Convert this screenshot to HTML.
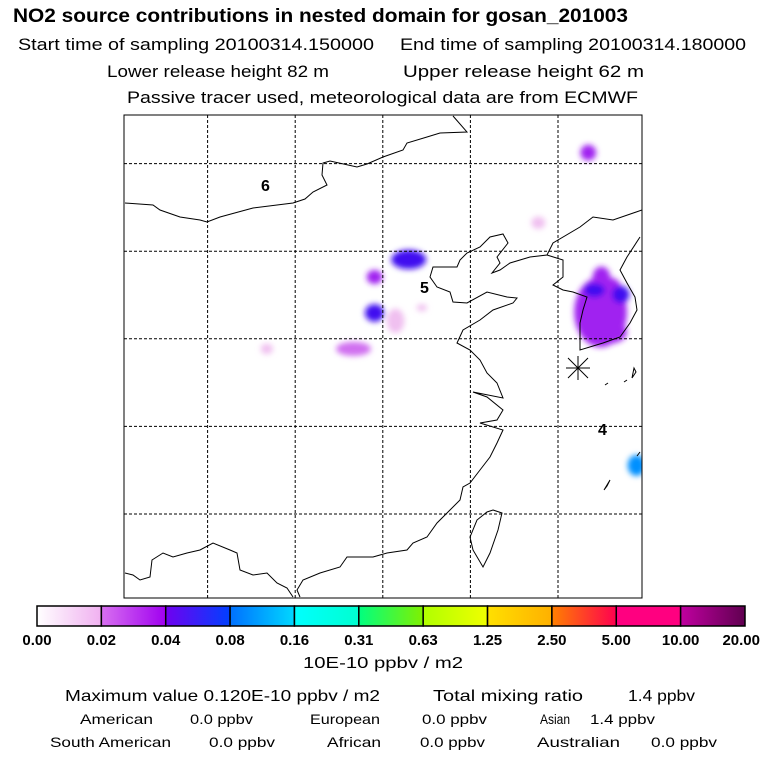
<!DOCTYPE html>
<html><head><meta charset="utf-8"><style>
html,body{margin:0;padding:0;background:#fff;}
svg{display:block;font-family:"Liberation Sans",sans-serif;}
</style></head><body>
<svg id="chart" width="768" height="768" viewBox="0 0 768 768" xmlns="http://www.w3.org/2000/svg">
<defs>
<filter id="blur" x="-50%" y="-50%" width="200%" height="200%"><feGaussianBlur stdDeviation="3"/></filter>
<clipPath id="mapclip"><rect x="124" y="115" width="518" height="483"/></clipPath>
</defs>
<g fill="#000">
<text x="13" y="22" font-size="19" font-weight="bold" textLength="615" lengthAdjust="spacingAndGlyphs">NO2 source contributions in nested domain for gosan_201003</text>
<text x="18" y="50" font-size="17" textLength="356" lengthAdjust="spacingAndGlyphs">Start time of sampling 20100314.150000</text>
<text x="400" y="50" font-size="17" textLength="346" lengthAdjust="spacingAndGlyphs">End time of sampling 20100314.180000</text>
<text x="107" y="77" font-size="17" textLength="222" lengthAdjust="spacingAndGlyphs">Lower release height   82 m</text>
<text x="403" y="77" font-size="17" textLength="241" lengthAdjust="spacingAndGlyphs">Upper release height   62 m</text>
<text x="127" y="103" font-size="17" textLength="511" lengthAdjust="spacingAndGlyphs">Passive tracer used, meteorological data are from ECMWF</text>
</g>
<g id="map">
<rect x="124" y="115" width="518" height="483" fill="#fff"/>
<g id="blobs" clip-path="url(#mapclip)" filter="url(#blur)"></g>
<g id="grid" stroke="#000" stroke-width="1" stroke-dasharray="3,2"></g>
<g fill="none" stroke="#000" stroke-width="1" clip-path="url(#mapclip)">
<path d="M125,203 L153,205 L160,210 L180,217 L200,220 L207,222 L220,217 L253,208 L293,203 L305,199 L313,192 L327,185 L322,175 L323,163 L330,161 L357,167 L367,164 L383,157 L403,150 L407,143 L427,137 L440,133 L467,132 L453,116"/>
<path d="M642,210 L613,220 L593,217 L580,227 L553,243 L547,255 L530,257 L510,263 L500,270 L492,273 L500,263 L497,257 L508,243 L503,234 L490,237 L480,247 L467,253 L460,260 L457,267 L433,267 L430,277 L437,287 L450,292 L453,302 L467,303 L487,292 L507,297 L517,298 L513,303 L493,310 L480,320 L463,330 L457,343 L470,350 L480,360 L487,373 L497,383 L503,398 L473,392 L487,397 L503,410 L497,420 L480,423 L503,430 L497,443 L490,457 L480,470 L470,483 L463,487 L460,500 L447,513 L437,523 L427,537 L413,543 L407,550 L387,553 L373,557 L360,557 L347,557 L340,567 L320,573 L303,580 L297,590 L300,597"/>
<path d="M547,255 L563,260 L563,277 L553,285 L563,290 L573,292 L587,297 L583,310 L580,323 L580,343 L580,350 L603,343 L620,337 L630,323 L637,310 L635,297 L627,283 L620,270 L627,257 L640,237"/>
<path d="M493,510 L502,513 L498,530 L490,553 L483,567 L473,550 L470,537 L477,520 L487,512 Z"/>
<path d="M125,573 L133,575 L140,580 L150,577 L152,560 L163,553 L173,557 L187,553 L200,550 L213,543 L230,550 L237,553 L240,570 L253,575 L267,573 L277,583 L287,588 L293,597"/>
<path d="M632,378 L636,372 L634,368 Z M624,382 L627,380 M605,385 L608,383 M604,490 L610,480 L607,486 Z M637,456 L640,452"/>
</g>
<g stroke="#000" stroke-width="1">
<line x1="566" y1="368" x2="590" y2="368"/><line x1="578" y1="356" x2="578" y2="380"/>
<line x1="568" y1="358" x2="588" y2="378"/><line x1="568" y1="378" x2="588" y2="358"/>
</g>
<g font-size="16" font-weight="bold" fill="#000">
<text x="261" y="191">6</text>
<text x="420" y="293">5</text>
<text x="598" y="435">4</text>
</g>
<rect x="124" y="115" width="518" height="483" fill="none" stroke="#000" stroke-width="1"/>
</g>
<g id="colorbar"></g>
<g id="cblabels" font-size="15" font-weight="bold" fill="#000"></g>
<text x="383" y="668" font-size="16" text-anchor="middle" textLength="160" lengthAdjust="spacingAndGlyphs">10E-10 ppbv / m2</text>
<g font-size="16" fill="#000">
<text x="65" y="701" textLength="315" lengthAdjust="spacingAndGlyphs">Maximum value  0.120E-10 ppbv / m2</text>
<text x="433" y="701" textLength="150" lengthAdjust="spacingAndGlyphs">Total mixing ratio</text>
<text x="628" y="701" textLength="67" lengthAdjust="spacingAndGlyphs">1.4 ppbv</text>
<g font-size="14">
<text x="80" y="724" textLength="73" lengthAdjust="spacingAndGlyphs">American</text>
<text x="190" y="724" textLength="63" lengthAdjust="spacingAndGlyphs">0.0 ppbv</text>
<text x="310" y="724" textLength="70" lengthAdjust="spacingAndGlyphs">European</text>
<text x="422" y="724" textLength="65" lengthAdjust="spacingAndGlyphs">0.0 ppbv</text>
<text x="540" y="724" textLength="30" lengthAdjust="spacingAndGlyphs">Asian</text>
<text x="590" y="724" textLength="65" lengthAdjust="spacingAndGlyphs">1.4 ppbv</text>
<text x="50" y="747" textLength="121" lengthAdjust="spacingAndGlyphs">South American</text>
<text x="209" y="747" textLength="66" lengthAdjust="spacingAndGlyphs">0.0 ppbv</text>
<text x="327" y="747" textLength="54" lengthAdjust="spacingAndGlyphs">African</text>
<text x="420" y="747" textLength="65" lengthAdjust="spacingAndGlyphs">0.0 ppbv</text>
<text x="537" y="747" textLength="83" lengthAdjust="spacingAndGlyphs">Australian</text>
<text x="651" y="747" textLength="66" lengthAdjust="spacingAndGlyphs">0.0 ppbv</text>
</g>
</g>
</svg>
<script>
const colorbarLevels = ["0.00","0.02","0.04","0.08","0.16","0.31","0.63","1.25","2.50","5.00","10.00","20.00"];
const colorbarStops = [["#ffffff","#f0b0f0"],["#d870f0","#a000f0"],["#7000f0","#0040ff"],["#0070ff","#00d8ff"],["#00ffff","#00ffd0"],["#00ff80","#80f000"],["#b0ff00","#f0ff00"],["#ffe000","#ffb000"],["#ff8000","#ff0050"],["#ff0080","#ff0080"],["#c000a0","#600050"]];
const gridLon = [1,2,3,4,5];
const gridLat = [1,2,3,4,5];
// blobs: grid-cell coordinates from map top-left, radii in cells, value index 0..1
const blobX = [3.25, 2.86, 2.86, 3.1, 2.62, 1.63, 5.3, 4.73, 5.44, 5.45, 5.56, 5.5, 5.54, 5.37, 5.67, 5.85, 3.4];
const blobY = [1.65, 1.85, 2.26, 2.35, 2.67, 2.67, 0.43, 1.23, 2.25, 1.85, 2.0, 2.35, 2.48, 2.0, 2.05, 4.0, 2.2];
const blobRX = [0.2, 0.09, 0.11, 0.1, 0.2, 0.07, 0.09, 0.08, 0.3, 0.1, 0.12, 0.18, 0.2, 0.12, 0.1, 0.1, 0.06];
const blobRY = [0.11, 0.08, 0.1, 0.14, 0.08, 0.06, 0.09, 0.07, 0.4, 0.12, 0.14, 0.14, 0.13, 0.08, 0.1, 0.12, 0.04];
const blobVal = [0.9, 0.55, 0.9, 0.15, 0.45, 0.2, 0.6, 0.2, 0.5, 0.6, 0.5, 0.7, 0.7, 0.95, 0.9, 1.0, 0.2];
const NS="http://www.w3.org/2000/svg";
const mapX0=124,mapY0=115,cell=87.6;
function gx(v){return mapX0+v*cell;}
function gy(v){return mapY0+v*cell;}
function valColor(v){
  if(v>=1) return "#0090ff";
  if(v>=0.85) return "#4010f0";
  if(v>=0.5) return "#a020f0";
  if(v>=0.3) return "#d070f0";
  return "#f0c0f0";
}
const blobs=document.getElementById('blobs');
for(let i=0;i<blobX.length;i++){
  const e=document.createElementNS(NS,'ellipse');
  
  
  e.setAttribute('cx',gx(blobX[i]));e.setAttribute('cy',gy(blobY[i]));
  e.setAttribute('rx',blobRX[i]*cell);e.setAttribute('ry',blobRY[i]*cell);
  e.setAttribute('fill',valColor(blobVal[i]));
  blobs.appendChild(e);
}
const grid=document.getElementById('grid');
gridLon.forEach(v=>{const l=document.createElementNS(NS,'line');


l.setAttribute('x1',gx(v)-4);l.setAttribute('x2',gx(v)-4);l.setAttribute('y1',115);l.setAttribute('y2',598);grid.appendChild(l);});
gridLat.forEach(v=>{const l=document.createElementNS(NS,'line');


l.setAttribute('y1',gy(v)-39);l.setAttribute('y2',gy(v)-39);l.setAttribute('x1',124);l.setAttribute('x2',642);grid.appendChild(l);});
const cb=document.getElementById('colorbar'),cbl=document.getElementById('cblabels');
const cbX0=37,cbX1=745,cbY=606,cbH=20,segW=(cbX1-cbX0)/colorbarStops.length;
const defs=document.querySelector('defs');
colorbarStops.forEach((s,i)=>{
  const g=document.createElementNS(NS,'linearGradient');g.id='cg'+i;
  g.innerHTML='<stop offset="0" stop-color="'+s[0]+'"/><stop offset="1" stop-color="'+s[1]+'"/>';
  defs.appendChild(g);
  const r=document.createElementNS(NS,'rect');
  
  
  r.setAttribute('x',cbX0+i*segW);r.setAttribute('y',cbY);r.setAttribute('width',segW);r.setAttribute('height',cbH);
  r.setAttribute('fill','url(#cg'+i+')');r.setAttribute('stroke','#000');r.setAttribute('stroke-width','1.5');
  cb.appendChild(r);
});
colorbarLevels.forEach((t,i)=>{
  const x=cbX0+i*segW;
  const tx=document.createElementNS(NS,'text');
  
  
  tx.setAttribute('x',Math.max(x,27));tx.setAttribute('y',645);
  tx.setAttribute('text-anchor',i===colorbarLevels.length-1?'end':'middle');
  if(i===colorbarLevels.length-1) tx.setAttribute('x',760);
  tx.textContent=t;cbl.appendChild(tx);
});
</script>
</body></html>
